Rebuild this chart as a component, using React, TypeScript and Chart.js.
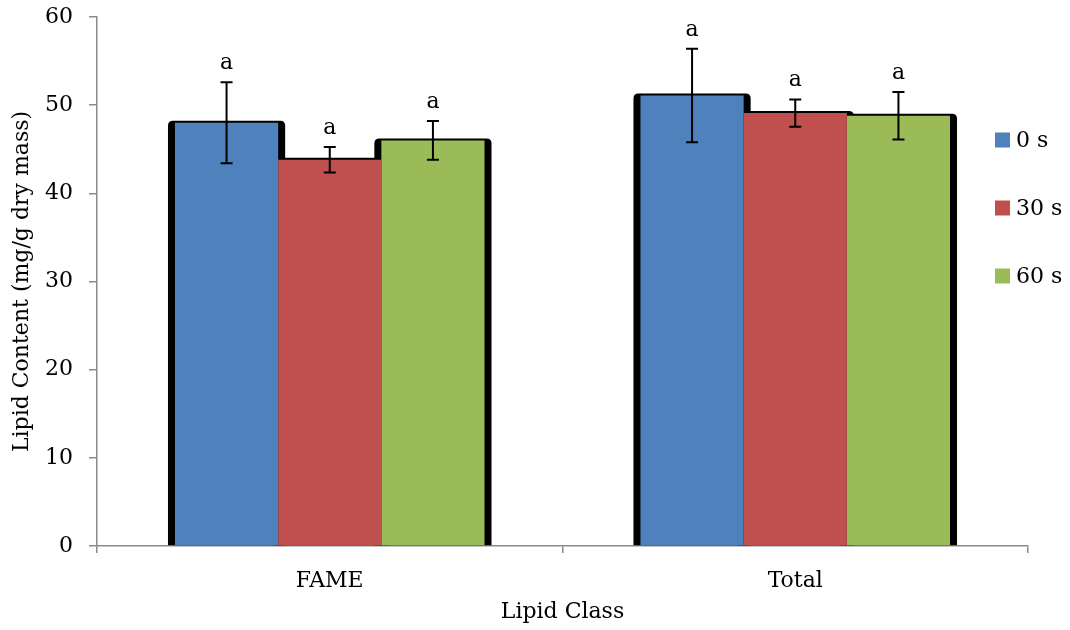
import React, { useEffect, useRef } from "react";
import { Chart, registerables } from "chart.js";

Chart.register(...registerables);

const categories = ["FAME", "Total"];
const seriesNames = ["0 s", "30 s", "60 s"];
const seriesColors = ["#4F81BD", "#C0504D", "#9BBB59"];
const values0s = [48.0, 51.1];
const values30s = [43.8, 49.1];
const values60s = [46.0, 48.8];
const errors0s = [4.6, 5.3];
const errors30s = [1.45, 1.55];
const errors60s = [2.2, 2.7];
const letters0s = ["a", "a"];
const letters30s = ["a", "a"];
const letters60s = ["a", "a"];
const yTicks = [0, 10, 20, 30, 40, 50, 60];

const allValues = [values0s, values30s, values60s];
const allErrors = [errors0s, errors30s, errors60s];
const allLetters = [letters0s, letters30s, letters60s];

const FONT = "'DejaVu Serif', serif";

function topRounded(ctx: CanvasRenderingContext2D, l: number, t: number, r: number, b: number, rad: number) {
  ctx.beginPath();
  ctx.moveTo(l, b);
  ctx.lineTo(l, t + rad);
  ctx.quadraticCurveTo(l, t, l + rad, t);
  ctx.lineTo(r - rad, t);
  ctx.quadraticCurveTo(r, t, r, t + rad);
  ctx.lineTo(r, b);
  ctx.closePath();
  ctx.fill();
}

const shadowPlugin = {
  id: "barShadow",
  beforeDatasetsDraw(chart: any) {
    const ctx = chart.ctx;
    ctx.save();
    ctx.fillStyle = "#000";
    chart.data.datasets.forEach((_ds: any, di: number) => {
      const meta = chart.getDatasetMeta(di);
      meta.data.forEach((bar: any) => {
        const p = bar.getProps(["x", "y", "base", "width"], true);
        const l = p.x - p.width / 2 - 7;
        const r = p.x + p.width / 2 + 7;
        const t = p.y - 2;
        topRounded(ctx, l, t, r, p.base, 5);
      });
    });
    ctx.restore();
  },
};

const errorPlugin = {
  id: "errorBars",
  afterDatasetsDraw(chart: any) {
    const ctx = chart.ctx;
    const yScale = chart.scales.y;
    ctx.save();
    ctx.strokeStyle = "#000";
    ctx.lineWidth = 2;
    ctx.fillStyle = "#000";
    ctx.font = `22px ${FONT}`;
    ctx.textAlign = "center";
    ctx.textBaseline = "alphabetic";
    chart.data.datasets.forEach((_ds: any, di: number) => {
      const meta = chart.getDatasetMeta(di);
      meta.data.forEach((bar: any, i: number) => {
        const v = allValues[di][i];
        const e = allErrors[di][i];
        const x = bar.x;
        const yHi = yScale.getPixelForValue(v + e);
        const yLo = yScale.getPixelForValue(v - e);
        ctx.beginPath();
        ctx.moveTo(x, yHi);
        ctx.lineTo(x, yLo);
        ctx.moveTo(x - 6, yHi);
        ctx.lineTo(x + 6, yHi);
        ctx.moveTo(x - 6, yLo);
        ctx.lineTo(x + 6, yLo);
        ctx.stroke();
        ctx.fillText(allLetters[di][i], x, yHi - 13);
      });
    });
    ctx.restore();
  },
};

const legendPlugin = {
  id: "customLegend",
  afterDraw(chart: any) {
    const ctx = chart.ctx;
    ctx.save();
    ctx.font = `22px ${FONT}`;
    ctx.textAlign = "left";
    ctx.textBaseline = "middle";
    seriesNames.forEach((name, i) => {
      const cy = 140 + i * 68;
      ctx.fillStyle = seriesColors[i];
      ctx.fillRect(995, cy - 7.5, 15, 15);
      ctx.fillStyle = "#000";
      ctx.fillText(name, 1016, cy + 1);
    });
    ctx.restore();
  },
};

export default function App() {
  const ref = useRef<HTMLCanvasElement | null>(null);
  useEffect(() => {
    document.body.style.margin = "0";
    const canvas = ref.current!;
    const chart = new Chart(canvas, {
      type: "bar",
      data: {
        labels: categories,
        datasets: seriesNames.map((name, i) => ({
          label: name,
          data: allValues[i],
          backgroundColor: seriesColors[i],
          borderWidth: 0,
          barPercentage: 1,
          categoryPercentage: 0.665,
        })),
      },
      options: {
        responsive: false,
        animation: false,
        devicePixelRatio: 1,
        layout: { padding: { top: 17, right: 42, bottom: 0, left: 0 } },
        plugins: {
          legend: { display: false },
          tooltip: { enabled: false },
        },
        scales: {
          x: {
            grid: {
              display: true,
              drawOnChartArea: false,
              drawTicks: true,
              tickLength: 7,
              color: "#8a8a8a",
              lineWidth: 1.5,
            },
            border: { display: true, color: "#8a8a8a", width: 1.5 },
            ticks: { color: "#000", font: { family: FONT, size: 22 }, padding: 15 },
            title: {
              display: true,
              text: "Lipid Class",
              color: "#000",
              font: { family: FONT, size: 22 },
              padding: { top: 0, bottom: 5 },
            },
            afterFit: (s: any) => {
              s.height = 84;
              s.paddingLeft = 0;
              s.paddingRight = 0;
            },
          },
          y: {
            min: 0,
            max: 60,
            afterBuildTicks: (s: any) => {
              s.ticks = yTicks.map((v) => ({ value: v }));
            },
            grid: {
              display: true,
              drawOnChartArea: false,
              drawTicks: true,
              tickLength: 8,
              color: "#8a8a8a",
              lineWidth: 1.5,
            },
            border: { display: true, color: "#8a8a8a", width: 1.5 },
            ticks: { color: "#000", font: { family: FONT, size: 22 }, padding: 16 },
            title: {
              display: true,
              text: "Lipid Content (mg/g dry mass)",
              color: "#000",
              font: { family: FONT, size: 22 },
              padding: { top: 9, bottom: 0 },
            },
            afterFit: (s: any) => {
              s.width = 97;
              s.paddingTop = 0;
              s.paddingBottom = 0;
            },
          },
        },
      },
      plugins: [shadowPlugin, errorPlugin, legendPlugin],
    });
    return () => chart.destroy();
  }, []);
  return (
    <div style={{ position: "absolute", left: 0, top: 0, width: 1070, height: 630 }}>
      <canvas ref={ref} width={1070} height={630} style={{ width: 1070, height: 630 }} />
    </div>
  );
}
